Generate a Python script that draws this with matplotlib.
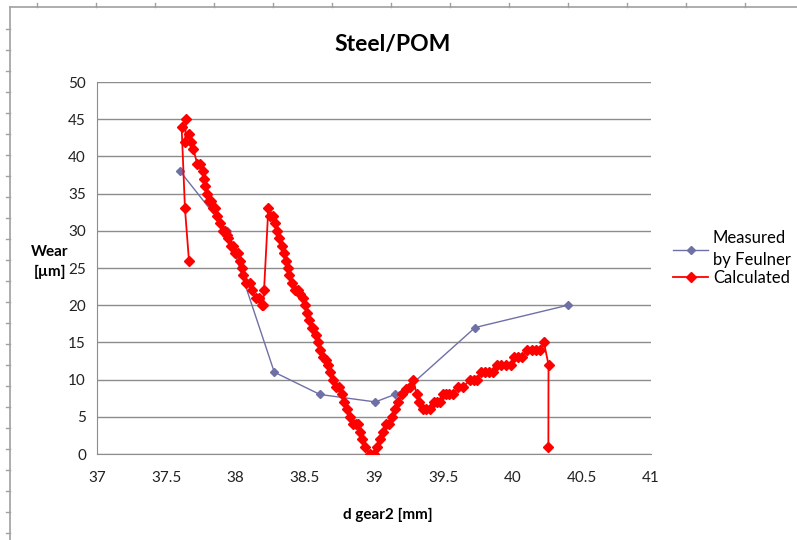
import matplotlib
matplotlib.use("Agg")
import matplotlib.pyplot as plt
from matplotlib.lines import Line2D

plt.rcParams['font.family'] = ['Lato', 'DejaVu Sans']

# measured wear (Feulner)
meas_d = [37.60, 37.94, 38.28, 38.61, 39.01, 39.15, 39.25, 39.73, 40.40]
meas_wear = [38, 30, 11, 8, 7, 8, 9, 17, 20]

# calculated wear
calc_d = [37.664, 37.635, 37.611, 37.643, 37.636, 37.667, 37.676, 37.695, 37.724, 37.744,
          37.763, 37.775, 37.780, 37.792, 37.808, 37.822, 37.838, 37.852, 37.869, 37.888,
          37.907, 37.924, 37.936, 37.948, 37.965, 37.984, 37.996, 38.020, 38.033, 38.045,
          38.056, 38.078, 38.102, 38.117, 38.145, 38.170, 38.190, 38.200, 38.206, 38.237,
          38.249, 38.268, 38.285, 38.302, 38.316, 38.334, 38.350, 38.365, 38.376, 38.389,
          38.408, 38.430, 38.450, 38.466, 38.485, 38.502, 38.518, 38.528, 38.550, 38.562,
          38.580, 38.598, 38.613, 38.634, 38.653, 38.670, 38.682, 38.706, 38.725, 38.750,
          38.767, 38.783, 38.807, 38.827, 38.850, 38.868, 38.887, 38.900, 38.915, 38.935,
          38.970, 38.998, 39.024, 39.043, 39.067, 39.087, 39.110, 39.128, 39.150, 39.175,
          39.200, 39.230, 39.260, 39.284, 39.308, 39.327, 39.352, 39.375, 39.404, 39.430,
          39.453, 39.476, 39.496, 39.520, 39.544, 39.573, 39.610, 39.645, 39.693, 39.722,
          39.746, 39.770, 39.800, 39.830, 39.860, 39.890, 39.920, 39.950, 39.990, 40.010,
          40.040, 40.070, 40.107, 40.140, 40.170, 40.200, 40.227, 40.260, 40.259]
calc_wear = [26, 33, 44, 45, 42, 43, 42, 41, 39, 39,
             38, 37, 36, 35, 34, 34, 33, 33, 32, 31,
             30, 30, 29.5, 29, 28, 28, 27, 27, 26, 25,
             24, 23, 23, 22, 21, 21, 20, 20, 22, 33,
             32, 32, 31, 30, 29, 28, 27, 26, 25, 24,
             23, 22, 22, 21.5, 21, 20, 19, 18, 17, 17,
             16, 15, 14, 13, 12.6, 12, 11, 10, 9, 9,
             8, 7, 6, 5, 4, 4, 4, 3, 2, 1,
             0, 0, 1, 2, 3, 4, 4, 5, 6, 7,
             8, 8.7, 9, 10, 8, 7, 6, 6, 6, 7,
             7, 7, 8, 8, 8, 8, 9, 9, 10, 10,
             10, 11, 11, 11, 11, 12, 12, 12, 12, 13,
             13, 13, 14, 14, 14, 14, 15, 12, 1]

fig = plt.figure(figsize=(7.97, 5.40), dpi=100)
ax = fig.add_axes([97 / 797, 1 - 454 / 540, 554 / 797, 372 / 540])

ax.plot(meas_d, meas_wear, color='#6E70A6', lw=1, marker='D', ms=4.5,
        label='Measured\nby Feulner', zorder=3)
ax.plot(calc_d, calc_wear, color='#FF0000', lw=1.3, marker='D', ms=5,
        label='Calculated', zorder=4)

ax.set_xlim(37, 41)
ax.set_ylim(0, 50)
ax.set_xticks([37, 37.5, 38, 38.5, 39, 39.5, 40, 40.5, 41])
ax.set_xticklabels(['37', '37.5', '38', '38.5', '39', '39.5', '40', '40.5', '41'])
ax.set_yticks(range(0, 51, 5))
ax.yaxis.grid(True, color='#8C8C8C', lw=1)
ax.set_axisbelow(True)
for s in ['top', 'right']:
    ax.spines[s].set_visible(False)
for s in ['left', 'bottom']:
    ax.spines[s].set_color('#8C8C8C')
ax.tick_params(length=0, labelsize=11, colors='#222222', pad=8)
ax.tick_params(axis='x', pad=12)

fig.text(393 / 797, 1 - 45 / 540, 'Steel/POM', ha='center', va='center',
         fontsize=16.5, fontweight='bold')
fig.text(388 / 797, 1 - 515 / 540, 'd gear2 [mm]', ha='center', va='center',
         fontsize=11, fontweight='bold')
fig.text(50 / 797, 1 - 262 / 540, 'Wear\n[µm]', ha='center', va='center',
         fontsize=11, fontweight='bold', linespacing=1.6)

leg = ax.legend(loc='center left', bbox_to_anchor=(673 / 797, 1 - 258 / 540),
                bbox_transform=fig.transFigure, frameon=False, fontsize=12,
                handlelength=2.1, handletextpad=0.3, labelspacing=0.12,
                borderaxespad=0, borderpad=0)
for t in leg.get_texts():
    t.set_linespacing(1.5)

# sheet frame with small ruler ticks
fr = '#A0A0A0'
fig.add_artist(Line2D([10 / 797, 10 / 797], [0, 1 - 7 / 540], color=fr, lw=1.2))
fig.add_artist(Line2D([10 / 797, 1], [1 - 7 / 540, 1 - 7 / 540], color=fr, lw=1.2))
for yy in range(29, 540, 21):
    fig.add_artist(Line2D([6 / 797, 10 / 797], [1 - yy / 540] * 2, color=fr, lw=1))
for xx in range(37, 797, 59):
    fig.add_artist(Line2D([xx / 797] * 2, [1 - 3 / 540, 1 - 7 / 540], color=fr, lw=1))

fig.savefig('out.png', dpi=100)
